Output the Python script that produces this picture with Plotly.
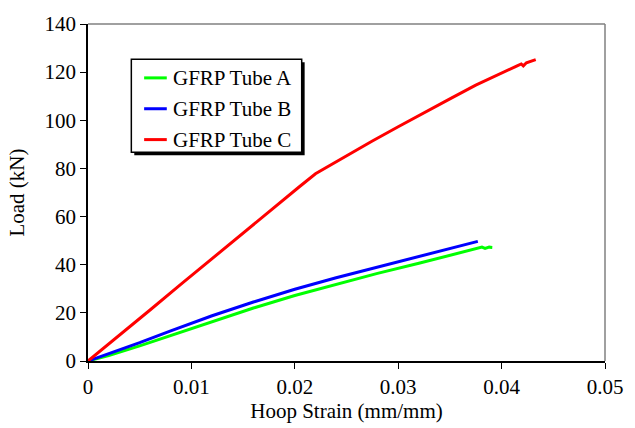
import plotly.graph_objects as go

# Data
strain_a = [0, 0.002, 0.005, 0.008, 0.012, 0.016, 0.020, 0.024, 0.028, 0.032, 0.035, 0.0378, 0.0381, 0.0384, 0.0388, 0.0391]
load_a = [0, 2.3, 6.3, 10.6, 16.5, 22.0, 27.2, 31.9, 36.4, 40.6, 43.8, 46.8, 47.3, 46.8, 47.3, 47.2]

strain_b = [0, 0.002, 0.005, 0.008, 0.012, 0.016, 0.020, 0.024, 0.028, 0.032, 0.035, 0.0377]
load_b = [0, 3.0, 7.6, 12.5, 18.8, 24.5, 29.8, 34.6, 39.0, 43.3, 46.5, 49.7]

strain_c = [0, 0.003, 0.006, 0.009, 0.012, 0.015, 0.018, 0.0205, 0.022, 0.025, 0.0275,
            0.030, 0.0325, 0.035, 0.0375, 0.040, 0.0415, 0.0419, 0.0421, 0.0424, 0.0428, 0.0433]
load_c = [0, 10.5, 21.2, 31.9, 42.6, 53.2, 63.8, 72.6, 77.8, 85.3, 91.4,
          97.3, 103.2, 108.9, 114.6, 119.8, 122.6, 123.4, 122.6, 123.9, 124.6, 125.2]

series_names = ["GFRP Tube A", "GFRP Tube B", "GFRP Tube C"]
series_colors = ["#00FF00", "#0000FF", "#FF0000"]

x_ticks = [0, 0.01, 0.02, 0.03, 0.04, 0.05]
x_tick_labels = ["0", "0.01", "0.02", "0.03", "0.04", "0.05"]
y_ticks = [0, 20, 40, 60, 80, 100, 120, 140]

FONT = "Liberation Serif, Times New Roman, serif"
FS = 21

fig = go.Figure()
for i, (xs, ys) in enumerate([(strain_a, load_a), (strain_b, load_b), (strain_c, load_c)]):
    fig.add_trace(go.Scatter(
        x=xs, y=ys, mode="lines", name=series_names[i],
        line=dict(color=series_colors[i], width=3),
        showlegend=False,
    ))

fig.update_layout(
    width=635, height=428,
    margin=dict(l=88, r=22, t=17, b=67),
    paper_bgcolor="white", plot_bgcolor="white",
    font=dict(family=FONT, size=FS, color="black"),
    showlegend=False,
    xaxis=dict(
        range=[0, 0.05], tickvals=x_ticks, ticktext=x_tick_labels,
        showgrid=False, zeroline=False,
        showline=True, linecolor="black", linewidth=1.5,
        ticks="outside", ticklen=6, tickcolor="black", tickwidth=1.2,
        tickfont=dict(family=FONT, size=FS),
        title=dict(text="Hoop Strain (mm/mm)", font=dict(family=FONT, size=FS), standoff=0),
    ),
    yaxis=dict(
        range=[0, 140], tickvals=y_ticks,
        showgrid=False, zeroline=False,
        showline=True, linecolor="black", linewidth=1.5,
        ticks="outside", ticklen=6, tickcolor="black", tickwidth=1.2,
        tickfont=dict(family=FONT, size=FS),
        title=dict(text="Load (kN)", font=dict(family=FONT, size=FS), standoff=14),
    ),
)

# gray plot-area border on top and right
fig.add_shape(type="line", xref="x domain", yref="y domain", x0=0, x1=1, y0=1, y1=1,
              line=dict(color="#808080", width=1.5))
fig.add_shape(type="line", xref="x domain", yref="y domain", x0=1, x1=1, y0=0, y1=1,
              line=dict(color="#808080", width=1.5))

# Legend box (drawn manually to match the boxed, shadowed legend)
L, T, W, H = 88, 17, 525, 344


def px_x(p):
    return (p - L) / W


def px_y(p):
    return (T + H - p) / H


fig.add_shape(type="rect", xref="paper", yref="paper",
              x0=px_x(135), x1=px_x(308), y0=px_y(151), y1=px_y(56),
              fillcolor="black", line=dict(width=0), layer="above")
fig.add_shape(type="rect", xref="paper", yref="paper",
              x0=px_x(132), x1=px_x(305), y0=px_y(148), y1=px_y(53),
              fillcolor="white", line=dict(color="black", width=1.5), layer="above")
row_y = [72, 103.5, 135]
for i, name in enumerate(series_names):
    fig.add_shape(type="line", xref="paper", yref="paper",
                  x0=px_x(145), x1=px_x(168), y0=px_y(row_y[i]), y1=px_y(row_y[i]),
                  line=dict(color=series_colors[i], width=3), layer="above")
    fig.add_annotation(x=px_x(172), y=px_y(row_y[i]), xref="paper", yref="paper",
                       text=name, showarrow=False, xanchor="left", yanchor="middle",
                       font=dict(family=FONT, size=FS, color="black"))

fig.write_html("out.html")
